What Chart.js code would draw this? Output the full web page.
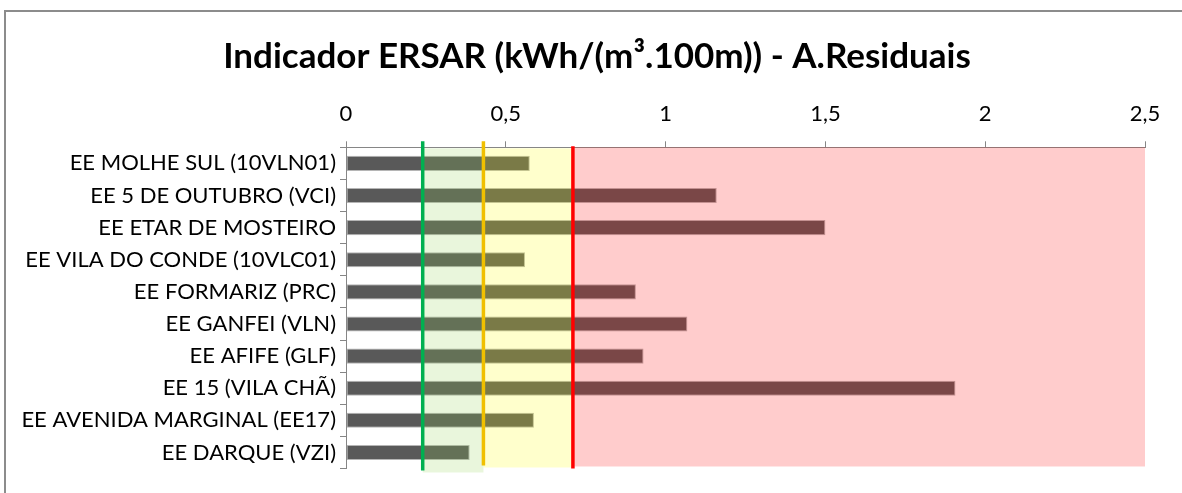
<!DOCTYPE html>
<html>
<head>
<meta charset="utf-8">
<script src="https://cdn.jsdelivr.net/npm/chart.js@4.4.1/dist/chart.umd.min.js"></script>
<style>
  html, body { margin: 0; padding: 0; background: #ffffff; }
  #wrap { position: relative; width: 1182px; height: 493px; }
  canvas { display: block; }
</style>
</head>
<body>
<div id="wrap"><canvas id="c" width="1182" height="493"></canvas></div>
<script>
// ---- data ----
const categories = [
  "EE MOLHE SUL (10VLN01)",
  "EE 5 DE OUTUBRO (VCI)",
  "EE ETAR DE MOSTEIRO",
  "EE VILA DO CONDE (10VLC01)",
  "EE FORMARIZ (PRC)",
  "EE GANFEI (VLN)",
  "EE AFIFE (GLF)",
  "EE 15 (VILA CHÃ)",
  "EE AVENIDA MARGINAL (EE17)",
  "EE DARQUE (VZI)"
];
const values = [0.575, 1.16, 1.50, 0.56, 0.907, 1.068, 0.931, 1.907, 0.588, 0.387];
const tickValues = [0, 0.5, 1, 1.5, 2, 2.5];
const tickLabels = ["0", "0,5", "1", "1,5", "2", "2,5"];
// quality bands (ERSAR reference thresholds)
const bandStarts = [0.24, 0.43, 0.71];
const bandEnds   = [0.43, 0.71, 2.5];
const bandColors = ["rgba(146,208,80,0.2)", "rgba(255,255,0,0.2)", "rgba(255,0,0,0.2)"];
const thresholdValues = [0.24, 0.43, 0.71];
const thresholdColors = ["#00b050", "#f0c000", "#ff0000"];

const FONT = "Lato, 'Open Sans', sans-serif";

const framePlugin = {
  id: 'frame',
  afterLayout(chart) {
    // centre the title over the same span as the reference
    if (chart.titleBlock) {
      chart.titleBlock.left = 49;
      chart.titleBlock.right = 1145;
      chart.titleBlock.width = 1145 - 49;
    }
  },
  beforeDraw(chart) {
    const ctx = chart.ctx;
    ctx.save();
    ctx.strokeStyle = '#8c8c8c';
    ctx.lineWidth = 2;
    ctx.beginPath();
    ctx.moveTo(5, 493);
    ctx.lineTo(5, 11);
    ctx.lineTo(1182, 11);
    ctx.stroke();
    ctx.restore();
  }
};

const bandPlugin = {
  id: 'bands',
  afterDatasetsDraw(chart) {
    const ctx = chart.ctx;
    const xs = chart.scales.x;
    const ca = chart.chartArea;
    ctx.save();
    const bandExtra = [[1, 4], [1, -1], [0, -2]];
    for (let i = 0; i < bandStarts.length; i++) {
      const x0 = xs.getPixelForValue(bandStarts[i]);
      const x1 = xs.getPixelForValue(bandEnds[i]);
      ctx.fillStyle = bandColors[i];
      ctx.fillRect(x0, ca.top + bandExtra[i][0], x1 - x0, ca.bottom - ca.top - bandExtra[i][0] + bandExtra[i][1]);
    }
    const lineExtra = [[-6, 2], [-6, -3], [-1, 0]];
    for (let i = 0; i < thresholdValues.length; i++) {
      const x = xs.getPixelForValue(thresholdValues[i]);
      ctx.strokeStyle = thresholdColors[i];
      ctx.lineWidth = 3.5;
      ctx.beginPath();
      ctx.moveTo(x, ca.top + lineExtra[i][0]);
      ctx.lineTo(x, ca.bottom + lineExtra[i][1]);
      ctx.stroke();
    }
    ctx.restore();
  }
};

new Chart(document.getElementById('c'), {
  type: 'bar',
  data: {
    labels: categories,
    datasets: [{
      data: values,
      backgroundColor: '#595959',
      borderColor: 'rgba(150,150,150,0.7)',
      borderWidth: 1,
      borderSkipped: false,
      categoryPercentage: 1,
      barPercentage: 0.47
    }]
  },
  options: {
    indexAxis: 'y',
    responsive: false,
    devicePixelRatio: 1,
    animation: false,
    layout: { padding: { left: 0, right: 37, top: 0, bottom: 24.5 } },
    plugins: {
      legend: { display: false },
      tooltip: { enabled: false },
      title: {
        display: true,
        text: 'Indicador ERSAR (kWh/(m³.100m)) - A.Residuais',
        color: '#000000',
        font: { family: FONT, size: 35, weight: 'bold' },
        padding: { top: 36, bottom: 5 }
      }
    },
    scales: {
      x: {
        position: 'top',
        min: 0,
        max: 2.5,
        afterBuildTicks(scale) {
          scale.ticks = tickValues.map(v => ({ value: v }));
        },
        afterFit(scale) { scale.height = 64.3; },
        ticks: {
          color: '#000000',
          font: { family: FONT, size: 22 },
          padding: 14,
          maxRotation: 0,
          callback: (v, i) => tickLabels[i]
        },
        grid: { display: true, drawOnChartArea: false, drawTicks: true, tickLength: 6, color: '#868686' },
        border: { display: true, color: '#868686', width: 1 }
      },
      y: {
        afterFit(scale) { scale.width = 346; },
        ticks: {
          color: '#000000',
          font: { family: FONT, size: 22 },
          padding: 4,
          autoSkip: false
        },
        grid: { display: true, offset: true, drawOnChartArea: false, drawTicks: true, tickLength: 6, color: '#868686' },
        border: { display: true, color: '#868686', width: 1 }
      }
    }
  },
  plugins: [framePlugin, bandPlugin]
});
</script>
</body>
</html>
